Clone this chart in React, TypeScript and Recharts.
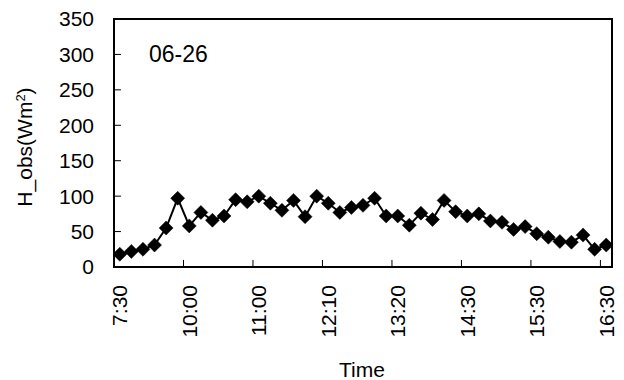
import React from 'react';
import { LineChart, Line, XAxis, YAxis, ReferenceLine, ReferenceArea } from 'recharts';

const times = [
  '7:30', '8:00', '8:30', '9:00', '9:30', '9:50', '10:00', '10:10', '10:20', '10:30', '10:40',
  '10:50', '11:00', '11:10', '11:20', '11:30', '11:40', '11:50', '12:10', '12:20', '12:30',
  '12:40', '12:50', '13:00', '13:20', '13:30', '13:40', '13:50', '14:00', '14:10', '14:30',
  '14:40', '14:50', '15:00', '15:10', '15:20', '15:30', '15:40', '15:50', '16:00', '16:10',
  '16:20', '16:30',
];

const hObs = [
  18, 22, 25, 31, 55, 97, 58, 77, 66, 72, 95,
  92, 100, 90, 80, 94, 71, 100, 90, 77, 84,
  87, 97, 72, 72, 59, 76, 67, 94, 78, 72,
  75, 65, 63, 53, 57, 47, 42, 36, 35, 45,
  25, 31,
];

const labelTickIdx = [0, 6, 12, 18, 24, 30, 36, 42];
const markTickPos = [5.5, 11.5, 17.5, 23.5, 29.5, 35.5, 41.5];
const yTicks = [0, 50, 100, 150, 200, 250, 300, 350];
const yInnerTicks = [50, 100, 150, 200, 250, 300];

const X_MIN = -0.5;
const X_MAX = 42.5;
const Y_MAX = 350;
const X_TICK_LEN = 10; // in y data units (~7px)
const Y_TICK_LEN = 0.6; // in x data units (~7px)

const data = hObs.map((h, i) => ({ i, time: times[i], h }));

const FONT = '"Liberation Sans", Arial, sans-serif';

const Diamond = (props: any) => {
  const { cx, cy, index } = props;
  if (cx == null || cy == null) return <g key={`d${index}`} />;
  const r = 7;
  return (
    <path
      key={`d${index}`}
      d={`M${cx},${cy - r} L${cx + r},${cy} L${cx},${cy + r} L${cx - r},${cy} Z`}
      fill="#000"
      stroke="#000"
      strokeWidth={0.5}
    />
  );
};

const RotTick = (props: any) => {
  const { x, y, payload } = props;
  return (
    <text
      x={x}
      y={y}
      transform={`rotate(-90, ${x}, ${y})`}
      textAnchor="end"
      dy="0.36em"
      fontSize={21}
      fontFamily={FONT}
      fill="#000"
    >
      {times[payload.value]}
    </text>
  );
};

export default function App() {
  return (
    <div style={{ position: 'absolute', left: 0, top: 0, width: 624, height: 380, background: '#fff' }}>
      <LineChart
        width={624}
        height={380}
        data={data}
        margin={{ top: 19, right: 12, bottom: 0, left: 0 }}
        style={{ fontFamily: FONT }}
      >
        <XAxis
          dataKey="i"
          type="number"
          domain={[X_MIN, X_MAX]}
          allowDataOverflow
          ticks={labelTickIdx}
          interval={0}
          height={113}
          tickLine={false}
          tickSize={0}
          tickMargin={18}
          axisLine={false}
          tick={<RotTick />}
        />
        <YAxis
          type="number"
          domain={[0, Y_MAX]}
          allowDataOverflow
          ticks={yTicks}
          interval={0}
          width={114}
          tickLine={false}
          tickSize={0}
          tickMargin={20}
          axisLine={false}
          tick={{ fill: '#000', fontSize: 21, fontFamily: FONT }}
        />
        <ReferenceArea
          x1={X_MIN}
          x2={X_MAX}
          y1={0}
          y2={Y_MAX}
          fill="none"
          fillOpacity={0}
          stroke="#000"
          strokeWidth={2}
          strokeOpacity={1}
        />
        {markTickPos.map((t) => (
          <ReferenceLine
            key={`xt${t}`}
            segment={[{ x: t, y: 0 }, { x: t, y: X_TICK_LEN }]}
            stroke="#000"
            strokeWidth={1}
          />
        ))}
        {yInnerTicks.map((t) => (
          <ReferenceLine
            key={`yt${t}`}
            segment={[{ x: X_MIN, y: t }, { x: X_MIN + Y_TICK_LEN, y: t }]}
            stroke="#000"
            strokeWidth={1}
          />
        ))}
        <Line
          dataKey="h"
          stroke="#000"
          strokeWidth={2}
          dot={<Diamond />}
          activeDot={false}
          isAnimationActive={false}
        />
        <text x={149} y={62} fontSize={23} fontFamily={FONT} fill="#000">
          06-26
        </text>
        <text x={362} y={377} fontSize={21} fontFamily={FONT} fill="#000" textAnchor="middle">
          Time
        </text>
        <text
          x={32}
          y={147}
          transform="rotate(-90, 32, 147)"
          textAnchor="middle"
          fontSize={21}
          fontFamily={FONT}
          fill="#000"
        >
          H_obs(Wm<tspan baselineShift="super" fontSize={13}>2</tspan>)
        </text>
      </LineChart>
    </div>
  );
}
